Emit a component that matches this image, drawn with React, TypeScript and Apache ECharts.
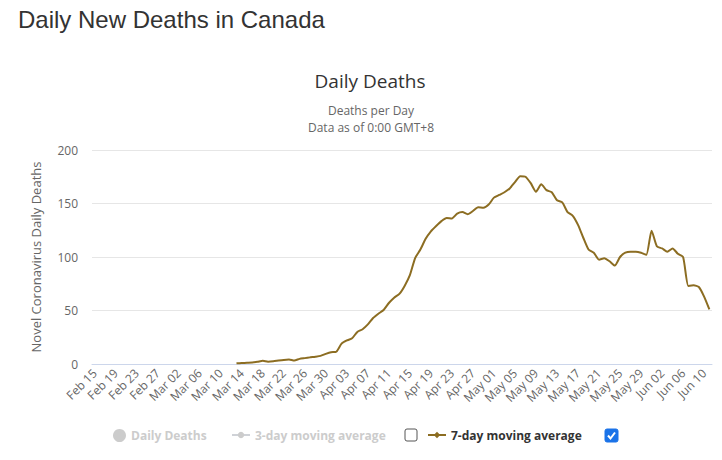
import React, { useEffect, useRef } from "react";
import * as echarts from "echarts";

const startDate = { year: 2020, month: 1, day: 15 };
const dayCount = 118;
const monthNames = ["Jan", "Feb", "Mar", "Apr", "May", "Jun", "Jul", "Aug", "Sep", "Oct", "Nov", "Dec"];
const yTicks = { min: 0, max: 200, interval: 50 };
const leadingEmptyDays = 27;
const sevenDayAvg = [
  0.6, 0.9, 1.1, 1.3, 2, 3, 2.2, 2.5, 3.2, 3.8,
  4.2, 3.2, 4.8, 5.5, 6.2, 6.8, 7.6, 9.5, 11, 11.5,
  19, 22, 24, 30, 32.5, 37, 43, 47, 50.5, 57,
  62, 65.5, 73, 83, 99, 107, 117, 124, 129, 133.5,
  136.5, 136, 140.5, 142, 140, 143, 146.5, 146, 149, 155.5,
  158, 160.5, 164, 170, 175.5, 175, 169, 161, 168, 162.5,
  160.5, 153, 151, 142, 138.5, 130, 118, 107, 104, 97.5,
  98.8, 96, 92, 100, 104, 105, 105, 104, 102, 124.6,
  110, 108, 105, 108, 103, 100, 73, 73.5, 72, 63, 51,
];
const dailyDeaths: number[] = [];
const threeDayAvg: number[] = [];

function buildCategories(): string[] {
  const out: string[] = [];
  for (let i = 0; i < dayCount; i++) {
    const d = new Date(startDate.year, startDate.month, startDate.day + i);
    out.push(`${monthNames[d.getMonth()]} ${String(d.getDate()).padStart(2, "0")}`);
  }
  return out;
}

export default function App() {
  const ref = useRef<HTMLDivElement>(null);
  useEffect(() => {
    document.body.style.margin = "0";
    const chart = echarts.init(ref.current!, null, { renderer: "svg" });
    const categories = buildCategories();
    const lineData: (number | null)[] = [
      ...new Array(leadingEmptyDays).fill(null),
      ...sevenDayAvg,
    ];
    const font = "'Open Sans', 'DejaVu Sans', sans-serif";
    const lineColor = "#8c6d22";
    const legendBase = {
      top: 429,
      padding: 0,
      inactiveColor: "#cccccc",
      textStyle: { fontFamily: font, fontSize: 12, fontWeight: "bold" as const, color: "#333333" },
    };
    chart.setOption({
      animation: false,
      backgroundColor: "#ffffff",
      title: [
        {
          text: "Daily New Deaths in Canada",
          left: 18,
          top: 7,
          padding: 0,
          textStyle: { fontFamily: "'Liberation Sans', Arial, sans-serif", fontSize: 24, fontWeight: "normal", color: "#333333" },
        },
        {
          text: "Daily Deaths",
          left: 370,
          top: 71,
          padding: 0,
          textAlign: "center",
          textStyle: { fontFamily: font, fontSize: 19, fontWeight: "normal", color: "#333333" },
        },
        {
          text: "Deaths per Day",
          left: 371,
          top: 103,
          padding: 0,
          textAlign: "center",
          textStyle: { fontFamily: font, fontSize: 12, lineHeight: 14, fontWeight: "normal", color: "#666666" },
        },
        {
          text: "Data as of 0:00 GMT+8",
          left: 371,
          top: 120,
          padding: 0,
          textAlign: "center",
          textStyle: { fontFamily: font, fontSize: 12, lineHeight: 14, fontWeight: "normal", color: "#666666" },
        },
      ],
      legend: [
        {
          ...legendBase,
          left: 113,
          data: [{ name: "Daily Deaths", icon: "circle" }],
          itemWidth: 13,
          itemHeight: 13,
          selected: { "Daily Deaths": false },
        },
        {
          ...legendBase,
          left: 231,
          data: ["3-day moving average"],
          itemWidth: 18,
          itemHeight: 8,
          selected: { "3-day moving average": false },
        },
        {
          ...legendBase,
          left: 427,
          data: ["7-day moving average"],
          itemWidth: 18,
          itemHeight: 8,
        },
      ],
      grid: { left: 92, right: 10, top: 150, bottom: 96, containLabel: false },
      xAxis: {
        type: "category",
        data: categories,
        boundaryGap: true,
        axisTick: { show: false },
        axisLine: { lineStyle: { color: "#ccd6eb" } },
        axisLabel: {
          interval: 3,
          rotate: 45,
          margin: 7,
          fontFamily: font,
          fontSize: 12,
          color: "#666666",
        },
        splitLine: { show: false },
      },
      yAxis: {
        type: "value",
        min: yTicks.min,
        max: yTicks.max,
        interval: yTicks.interval,
        name: "Novel Coronavirus Daily Deaths",
        nameLocation: "middle",
        nameGap: 50,
        nameRotate: 90,
        nameTextStyle: { fontFamily: font, fontSize: 13, color: "#666666" },
        axisLine: { show: false },
        axisTick: { show: false },
        axisLabel: { fontFamily: font, fontSize: 12, color: "#666666", margin: 14 },
        splitLine: { lineStyle: { color: "#e6e6e6" } },
      },
      series: [
        {
          name: "Daily Deaths",
          type: "line",
          data: dailyDeaths,
          itemStyle: { color: "#cccccc" },
        },
        {
          name: "3-day moving average",
          type: "line",
          data: threeDayAvg,
          symbol: "circle",
          itemStyle: { color: "#cccccc" },
        },
        {
          name: "7-day moving average",
          type: "line",
          data: lineData,
          smooth: 0.2,
          symbol: "diamond",
          symbolSize: 7,
          showSymbol: false,
          connectNulls: false,
          lineStyle: { color: lineColor, width: 2 },
          itemStyle: { color: lineColor },
        },
      ],
      graphic: [
        {
          type: "rect",
          shape: { x: 405, y: 429, width: 12, height: 12, r: 2 },
          style: { fill: "#ffffff", stroke: "#555555", lineWidth: 1 },
        },
        {
          type: "rect",
          shape: { x: 605, y: 429, width: 13, height: 13, r: 2 },
          style: { fill: "#1a73e8", stroke: "#1a73e8", lineWidth: 1 },
        },
        {
          type: "polyline",
          shape: { points: [[608, 435.5], [610.5, 438.5], [615, 432.5]] },
          style: { fill: "none", stroke: "#ffffff", lineWidth: 2 },
        },
      ],
    });
    return () => chart.dispose();
  }, []);
  return (
    <div
      ref={ref}
      style={{ position: "absolute", left: 0, top: 0, width: 722, height: 460 }}
    />
  );
}
